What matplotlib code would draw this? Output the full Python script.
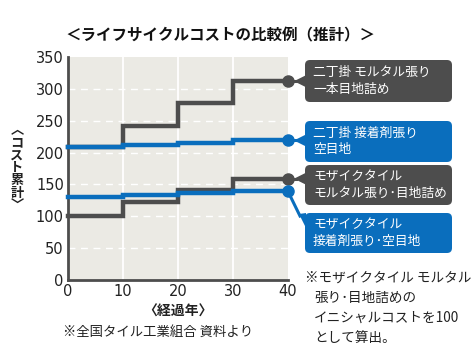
import matplotlib
matplotlib.use("Agg")
import matplotlib.pyplot as plt
from matplotlib.patches import FancyBboxPatch, Polygon
import numpy as np

plt.rcParams['font.family'] = ['Noto Sans CJK JP', 'DejaVu Sans']

years = [0, 10, 20, 30, 40]
# cumulative cost per decade (value holds until next step)
s_nichou_mortar = [209, 241, 278, 312]
s_nichou_adhesive = [209, 212, 215, 219]
s_mosaic_mortar = [100, 122, 141, 159]
s_mosaic_adhesive = [130, 133, 137, 139]

series = [
    ("二丁掛 モルタル張り\n一本目地詰め", s_nichou_mortar, "#4d4d4d"),
    ("二丁掛 接着剤張り\n空目地", s_nichou_adhesive, "#0a6ebd"),
    ("モザイクタイル\nモルタル張り･目地詰め", s_mosaic_mortar, "#4d4d4d"),
    ("モザイクタイル\n接着剤張り･空目地", s_mosaic_adhesive, "#0a6ebd"),
]

title = "＜ライフサイクルコストの比較例（推計）＞"
xlabel = "〈経過年〉"
ylabel_chars = ["︿", "コ", "ス", "ト", "累", "計", "﹀"]
source_note = "※全国タイル工業組合 資料より"
side_note = ["※モザイクタイル モルタル", "張り･目地詰めの", "イニシャルコストを100", "として算出。"]
xticks = [0, 10, 20, 30, 40]
yticks = [0, 50, 100, 150, 200, 250, 300, 350]

W, H = 477, 355
fig = plt.figure(figsize=(W / 100, H / 100), dpi=100)
fig.patch.set_facecolor("white")

ax = fig.add_axes([68 / W, 1 - 280 / H, 220 / W, 223 / H])
ax.set_facecolor("#ebeae4")
ax.set_xlim(0, 40)
ax.set_ylim(0, 350)
ax.set_xticks(xticks)
ax.set_yticks(yticks)
ax.tick_params(length=0, labelsize=10.5, colors="#222222", pad=3)
for lab in ax.get_xticklabels() + ax.get_yticklabels():
    lab.set_fontfamily(["DejaVu Sans"])
for t in [10, 20, 30]:
    ax.axvline(t, color="white", lw=1.3, zorder=1)
for t in [50, 100, 150, 200, 250, 300]:
    ax.axhline(t, color="white", lw=1.0, ls=(0, (5, 4)), zorder=1)
for sp in ["top", "right"]:
    ax.spines[sp].set_visible(False)
for sp in ["left", "bottom"]:
    ax.spines[sp].set_color("#4d4d4d")
    ax.spines[sp].set_linewidth(2.0)

order = [2, 0, 3, 1]
for i in order:
    name, vals, col = series[i]
    v = list(vals) + [vals[-1]]
    ax.step(years, v, where="post", color=col, lw=3.2, zorder=3 + i % 2, solid_joinstyle="miter",
            clip_on=False)
    ax.plot([years[-1]], [vals[-1]], "o", color=col, ms=8, zorder=5, clip_on=False)

# overlay in pixel coords (origin top-left)
ov = fig.add_axes([0, 0, 1, 1], facecolor="none")
ov.set_xlim(0, W)
ov.set_ylim(H, 0)
ov.axis("off")

def data_to_px(x, y):
    dx, dy = ax.transData.transform((x, y))
    return dx, H - dy

boxes = [(60, 102), (121, 162), (165, 205), (213, 253)]
bx0, bx1 = 305, 452
for (name, vals, col), (y0, y1) in zip(series, boxes):
    ov.add_patch(FancyBboxPatch((bx0, y0), bx1 - bx0, y1 - y0,
                                boxstyle="round,pad=0,rounding_size=5",
                                fc=col, ec="none", zorder=2))
    ov.text(bx0 + 8, (y0 + y1) / 2, name, color="white", fontsize=9.2,
            va="center", ha="left", linespacing=1.4, zorder=3)

# connectors
for k, ((name, vals, col), (y0, y1)) in enumerate(zip(series, boxes)):
    px, py = data_to_px(years[-1], vals[-1])
    if k < 3:
        ov.plot([px, 296], [py, py], color=col, lw=2.2, zorder=1)
        ov.add_patch(Polygon([[294, py], [bx0 + 1, py - 6], [bx0 + 1, py + 6]],
                             closed=True, fc=col, ec="none", zorder=2))
    else:
        ov.plot([px, 300], [py, 216], color=col, lw=2.2, zorder=1)
        ov.add_patch(Polygon([[299, 214], [bx0 + 1, 213], [bx0 + 1, 228]],
                             closed=True, fc=col, ec="none", zorder=2))

ov.text(220, 35, title, fontsize=11.2, fontweight="bold", ha="center", va="center", color="#111111")
ov.text(178, 312, xlabel, fontsize=10, ha="center", va="center", color="#222222", fontweight="bold")
for j, ch in enumerate(ylabel_chars):
    ov.text(17, 130 + j * 12.6, ch, fontsize=9.5, ha="center", va="center", color="#222222",
            fontweight="bold")
ov.text(63, 332, source_note, fontsize=9.6, ha="left", va="center", color="#222222")
for j, line in enumerate(side_note):
    ov.text(305 if j == 0 else 314, 278 + j * 20, line, fontsize=9.8, ha="left", va="center",
            color="#222222")

fig.savefig("out.png", dpi=100)
